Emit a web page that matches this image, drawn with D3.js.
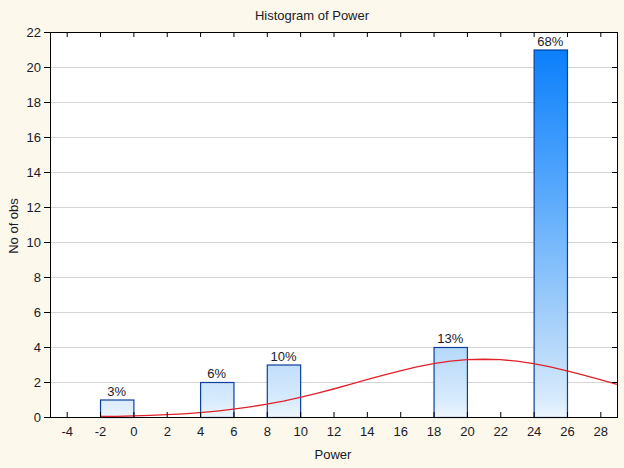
<!DOCTYPE html>
<html><head><meta charset="utf-8">
<script src="https://cdn.jsdelivr.net/npm/d3@7"></script>
<style>body{margin:0;background:#fdf8ec;}svg{display:block;}text{font-family:Arial,"Liberation Sans",sans-serif;fill:#1a1a28;}</style>
</head><body>
<script>
const binStarts = [-2, 4, 8, 18, 24];
const binWidth = 2;
const counts = [1, 2, 3, 4, 21];
const pctLabels = ["3%", "6%", "10%", "13%", "68%"];
const xTicks = [-4,-2,0,2,4,6,8,10,12,14,16,18,20,22,24,26,28];
const yTicks = [0,2,4,6,8,10,12,14,16,18,20,22];
const curveX = [-2,-1,0,1,2,3,4,5,6,7,8,9,10,11,12,13,14,15,16,17,18,19,20,21,22,23,24,25,26,27,28,29];
const curveY = [0.03,0.04,0.06,0.09,0.13,0.18,0.25,0.34,0.45,0.58,0.73,0.91,1.12,1.35,1.6,1.86,2.13,2.39,2.64,2.86,3.05,3.19,3.28,3.3,3.28,3.19,3.05,2.86,2.64,2.39,2.13,1.87];

const W = 624, H = 468;
const L = 50, R = 617, T = 32, B = 417;
const FS = 13;
const svg = d3.select("body").append("svg").attr("width", W).attr("height", H);
svg.append("rect").attr("width", W).attr("height", H).attr("fill", "#fdf8ec");

const x = d3.scaleLinear().domain([-5, 29]).range([L, R]);
const y = d3.scaleLinear().domain([0, 22]).range([B, T]);

const defs = svg.append("defs");
const grad = defs.append("linearGradient").attr("id", "bg").attr("gradientUnits", "userSpaceOnUse")
  .attr("x1", 0).attr("x2", 0).attr("y1", y(0)).attr("y2", y(21));
[[0, "#ecf5fe"], [0.05, "#d6eafc"], [0.2, "#b3d7fa"], [0.6, "#5aaafc"], [1, "#0b7ffb"]].forEach(s =>
  grad.append("stop").attr("offset", s[0]).attr("stop-color", s[1]));

svg.append("rect").attr("x", L).attr("y", T).attr("width", R - L).attr("height", B - T).attr("fill", "#fff");

// grid
svg.append("g").selectAll("line").data(yTicks.filter(d => d > 0 && d < 22)).join("line")
  .attr("x1", L).attr("x2", R).attr("y1", d => y(d) + 0.5).attr("y2", d => y(d) + 0.5)
  .attr("stroke", "#d4d4d4").attr("stroke-width", 1);

// bars
const bars = binStarts.map((s, i) => ({s, c: counts[i], p: pctLabels[i]}));
svg.append("g").selectAll("rect").data(bars).join("rect")
  .attr("x", d => x(d.s) + 0.5).attr("y", d => y(d.c) + 0.5)
  .attr("width", d => x(d.s + binWidth) - x(d.s)).attr("height", d => y(0) - y(d.c))
  .attr("fill", "url(#bg)").attr("stroke", "#0d3f9c").attr("stroke-width", 1.2);

// curve
const line = d3.line().x(d => x(d[0])).y(d => y(d[1]));
svg.append("path").datum(curveX.map((v, i) => [v, curveY[i]]))
  .attr("d", line).attr("fill", "none").attr("stroke", "#e0202a").attr("stroke-width", 1.3);

// labels
svg.append("g").selectAll("text").data(bars).join("text")
  .attr("x", d => x(d.s + binWidth / 2)).attr("y", d => y(d.c) - 4)
  .attr("text-anchor", "middle").attr("font-size", FS).text(d => d.p);

// axes
const fmt = d => String(d);
const gl = svg.append("g").attr("transform", `translate(${L},0)`)
  .call(d3.axisLeft(y).tickValues(yTicks).tickFormat(fmt).tickSize(6).tickPadding(3));
const gr = svg.append("g").attr("transform", `translate(${R},0)`)
  .call(d3.axisLeft(y).tickValues(yTicks).tickSize(5).tickFormat(""));
const gb = svg.append("g").attr("transform", `translate(0,${B})`)
  .call(d3.axisBottom(x).tickValues(xTicks).tickFormat(fmt).tickSizeInner(-5).tickSizeOuter(0).tickPadding(10));
const gt = svg.append("g").attr("transform", `translate(0,${T})`)
  .call(d3.axisTop(x).tickValues(xTicks).tickSizeInner(-5).tickSizeOuter(0).tickFormat(""));
[gl, gr, gb, gt].forEach(g => {
  g.selectAll("text").attr("font-size", FS).attr("fill", "#1a1a28").attr("font-family", "Arial, 'Liberation Sans', sans-serif");
  g.selectAll("line").attr("stroke", "#000");
  g.select(".domain").remove();
});
svg.append("rect").attr("x", L + 0.5).attr("y", T + 0.5).attr("width", R - L).attr("height", B - T)
  .attr("fill", "none").attr("stroke", "#000").attr("stroke-width", 1);

svg.append("text").attr("x", 312).attr("y", 20).attr("text-anchor", "middle").attr("font-size", FS).text("Histogram of Power");
svg.append("text").attr("x", 333).attr("y", 459).attr("text-anchor", "middle").attr("font-size", FS).text("Power");
svg.append("text").attr("transform", "translate(18,226) rotate(-90)").attr("text-anchor", "middle").attr("font-size", FS).text("No of obs");
</script>
</body></html>
